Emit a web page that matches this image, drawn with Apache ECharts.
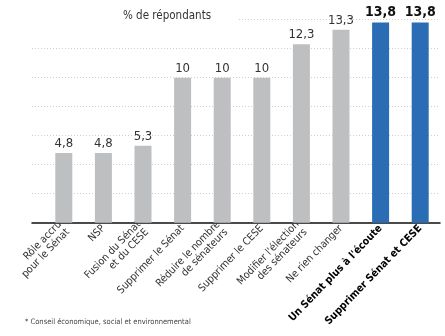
<!DOCTYPE html>
<html>
<head>
<meta charset="utf-8">
<script src="https://cdn.jsdelivr.net/npm/echarts@6/dist/echarts.min.js"></script>
<style>
  html, body { margin: 0; padding: 0; background: #fff; }
  #chart { width: 445px; height: 336px; }
</style>
</head>
<body>
<div id="chart"></div>
<script>
// Survey answers and their share of respondents (%)
const categories = [
  "Rôle accru\npour le Sénat",
  "NSP",
  "Fusion du Sénat\net du CESE",
  "Supprimer le Sénat",
  "Réduire le nombre\nde sénateurs",
  "Supprimer le CESE",
  "Modifier l'élection\ndes sénateurs",
  "Ne rien changer",
  "Un Sénat plus à l'écoute",
  "Supprimer Sénat et CESE"
];
const values = [4.8, 4.8, 5.3, 10, 10, 10, 12.3, 13.3, 13.8, 13.8];
const highlighted = [false, false, false, false, false, false, false, false, true, true];

const FONT = '"DejaVu Sans Condensed", "Liberation Sans Narrow", sans-serif';
const GREY = '#bebfc1';
const BLUE = '#2a6db5';

const fmt = v => String(v).replace('.', ',');

const chart = echarts.init(document.getElementById('chart'), null, { renderer: 'canvas' });

chart.setOption({
  animation: false,
  backgroundColor: '#fff',
  textStyle: { fontFamily: FONT },
  title: [
    {
      text: '% de répondants',
      left: 32, top: 8,
      backgroundColor: '#fff',
      padding: [2, 27, 2, 91],
      textStyle: { fontFamily: FONT, fontSize: 11.5, fontWeight: 'normal', color: '#333' },
      z: 10
    },
    {
      text: '* Conseil économique, social et environnemental',
      left: 25, top: 318,
      padding: 0,
      textStyle: { fontFamily: FONT, fontSize: 7.5, fontWeight: 'normal', color: '#444' }
    }
  ],
  grid: [
    { left: 32, right: 5, top: 19.7, bottom: 113.3, outerBoundsMode: 'none', containLabel: false },
    { left: 44, right: 5, top: 19.7, bottom: 113.3, outerBoundsMode: 'none', containLabel: false }
  ],
  xAxis: [
    {
      type: 'category', gridIndex: 0, data: categories,
      axisLine: { show: true, lineStyle: { color: '#111', width: 1.5 } },
      axisTick: { show: false }, axisLabel: { show: false }, splitLine: { show: false }
    },
    {
      type: 'category', gridIndex: 1,
      data: categories.map((c, i) => highlighted[i]
        ? { value: c, textStyle: { fontWeight: 'bold', color: '#000', fontSize: 10.5 } }
        : c),
      axisLine: { show: false }, axisTick: { show: false },
      axisLabel: {
        rotate: 46, interval: 0, margin: 4,
        fontFamily: FONT, fontSize: 10.5, color: '#333', lineHeight: 11, align: 'right'
      }
    }
  ],
  yAxis: [
    {
      type: 'value', gridIndex: 0, min: 0, max: 14, interval: 2,
      axisLine: { show: false }, axisTick: { show: false }, axisLabel: { show: false },
      splitLine: { show: true, lineStyle: { color: '#cfcfcf', type: [1, 2], width: 1 } }
    },
    {
      type: 'value', gridIndex: 1, min: 0, max: 14, interval: 2,
      axisLine: { show: false }, axisTick: { show: false }, axisLabel: { show: false },
      splitLine: { show: false }
    }
  ],
  series: [{
    type: 'bar',
    xAxisIndex: 1, yAxisIndex: 1,
    barWidth: 17,
    z: 3,
    data: values.map((v, i) => ({
      value: v,
      itemStyle: { color: highlighted[i] ? BLUE : GREY },
      label: highlighted[i]
        ? { fontWeight: 'bold', color: '#111', fontSize: 14 }
        : {}
    })),
    label: {
      show: true, position: 'top', distance: 3,
      fontFamily: FONT, fontSize: 13, color: '#333',
      formatter: p => fmt(p.value)
    }
  }]
});
</script>
</body>
</html>
